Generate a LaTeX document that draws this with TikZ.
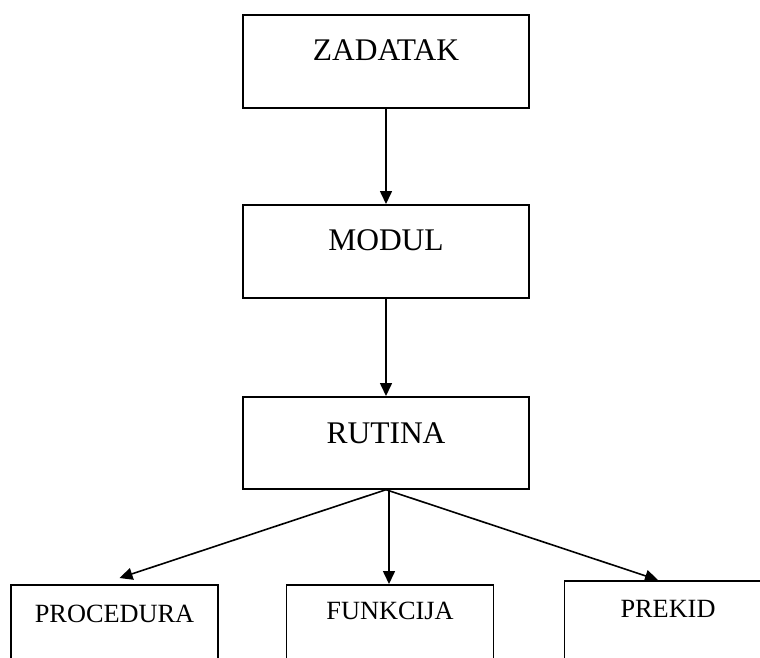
\documentclass[tikz,border=0pt]{standalone}
\usepackage{fontspec}
\setmainfont{Liberation Serif}
\usetikzlibrary{arrows.meta}
\begin{document}
\begin{tikzpicture}[x=1pt,y=-1pt,line width=1.7pt,
  gore/.style={draw,anchor=north,minimum width=286pt,inner xsep=0pt,inner ysep=0pt,
    text height=46pt,text depth=47pt,font=\fontsize{31.5}{36}\selectfont},
  dolje/.style={draw,anchor=north,minimum width=207pt,inner xsep=0pt,inner ysep=0pt,
    text height=38pt,text depth=60pt,font=\fontsize{26.3}{30}\selectfont},
  strel/.style={-{Triangle[length=13pt,width=12pt]},line width=1.6pt}]
\useasboundingbox (0,0) rectangle (760,657);
\clip (0,0) rectangle (760,657);
%\draw[very thin, gray] (0,0) grid[step=50] (760,657);
\node[gore] (zad) at (386,14) {ZADATAK};
\node[gore] (mod) at (386,204) {MODUL};
\node[gore,text height=47pt,text depth=45pt] (rut) at (386,396) {RUTINA};
\node[dolje] (proc) at (114.5,584) {PROCEDURA};
\node[dolje,text height=35pt] (funk) at (390,584) {FUNKCIJA};
\node[dolje,text height=37pt] (prek) at (668,580) {PREKID};
\draw[strel] (zad.south)--(mod.north);
\draw[strel] (mod.south)--(rut.north);
\draw[strel] (rut.south)--([xshift=5pt,yshift=6pt]proc.north);
\draw[strel] ([xshift=3pt]rut.south)--([xshift=-1pt]funk.north);
\draw[strel] (rut.south)--([xshift=-10pt]prek.north);
\end{tikzpicture}
\end{document}
